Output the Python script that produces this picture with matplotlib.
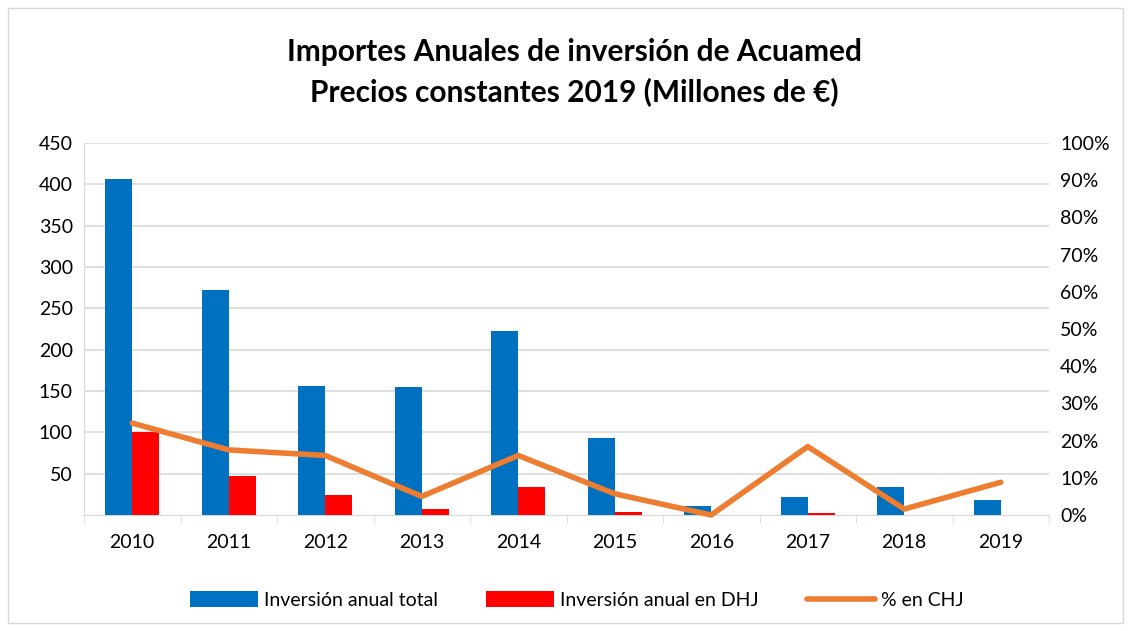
import numpy as np
import matplotlib.pyplot as plt
from matplotlib.ticker import PercentFormatter

years = ["2010", "2011", "2012", "2013", "2014", "2015", "2016", "2017", "2018", "2019"]
total = [407, 272, 156, 155, 223, 93, 11, 22, 34, 18]
dhj = [100, 47, 24, 7, 34, 4, 0, 3, 0, 0.5]
pct_chj = [24.7, 17.5, 16.0, 5.0, 16.0, 5.7, 0.0, 18.4, 1.6, 8.8]

plt.rcParams['font.family'] = ['Lato', 'DejaVu Sans']

fig = plt.figure(figsize=(11.31, 6.31), dpi=100)
ax = fig.add_axes([84 / 1131, 1 - 515 / 631, (1049 - 84) / 1131, (515 - 143) / 631])
ax2 = ax.twinx()

x = np.arange(len(years))
w = 0.28
ax.bar(x - w / 2, total, w, color="#0070c0", label="Inversión anual total", zorder=3)
ax.bar(x + w / 2, dhj, w, color="#ff0000", label="Inversión anual en DHJ", zorder=3)
ax2.plot(x, pct_chj, color="#ed7d31", lw=4, solid_capstyle="round", label="% en CHJ", zorder=4,
         clip_on=False)

ax.set_xlim(-0.5, len(years) - 0.5)
ax.set_ylim(0, 450)
ax.set_yticks(range(50, 451, 50))
ax2.set_ylim(0, 100)
ax2.set_yticks(range(0, 101, 10))
ax2.yaxis.set_major_formatter(PercentFormatter(decimals=0))

ax.set_xticks(x)
ax.set_xticklabels(years)
ax.set_xticks(np.arange(-0.5, len(years)), minor=True)
ax.tick_params(axis="x", which="major", length=0, pad=14, labelsize=14)
ax.tick_params(axis="x", which="minor", length=6, color="#d9d9d9")
ax.tick_params(axis="y", length=0, labelsize=14, pad=8)
ax2.tick_params(axis="y", length=0, labelsize=14, pad=8)

ax.grid(axis="y", color="#d9d9d9", lw=1.2, zorder=0)
for a in (ax, ax2):
    for s in ("top", "right"):
        a.spines[s].set_visible(False)
    a.spines["bottom"].set_color("#d9d9d9")
    a.spines["left"].set_color("#d9d9d9")
ax2.spines["left"].set_visible(False)
ax2.spines["bottom"].set_visible(False)
ax.set_axisbelow(True)

fig.text(0.508, 1 - 52 / 631, "Importes Anuales de inversión de Acuamed", ha="center", va="center",
         fontsize=21.5, fontweight="bold")
fig.text(0.508, 1 - 92 / 631, "Precios constantes 2019 (Millones de €)", ha="center", va="center",
         fontsize=21.5, fontweight="bold")

h1, l1 = ax.get_legend_handles_labels()
h2, l2 = ax2.get_legend_handles_labels()
fig.legend(h1 + h2, l1 + l2, loc="center", bbox_to_anchor=(0.51, 1 - 600 / 631), ncol=3,
           frameon=False, fontsize=14, handlelength=3.5, handleheight=0.9, columnspacing=2.5,
           handletextpad=0.3)

fig.patches.append(plt.Rectangle((8 / 1131, 8 / 631), 1 - 16 / 1131, 1 - 16 / 631, fill=False,
                                 edgecolor="#d9d9d9", lw=1, transform=fig.transFigure))

fig.savefig("out.png", dpi=100)
